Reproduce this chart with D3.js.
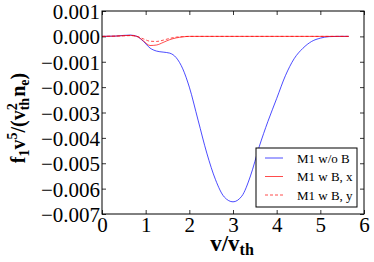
<!DOCTYPE html>
<html>
<head>
<meta charset="utf-8">
<script src="https://cdn.jsdelivr.net/npm/d3@7"></script>
<style>
  body { margin: 0; background: #fff; }
  svg text { font-family: "Liberation Serif", "Times New Roman", serif; }
</style>
</head>
<body>
<div id="chart-area"></div>
<script>
// velocity (v / v_th)
var vel = [0, 0.3, 0.5, 0.65, 0.8, 0.95, 1.1, 1.25, 1.4, 1.55, 1.7, 1.85, 2.0, 2.2, 2.4, 2.6,
           2.8, 3.0, 3.2, 3.4, 3.6, 3.8, 4.0, 4.2, 4.4, 4.6, 4.8, 5.0, 5.2, 5.4, 5.65];
// values in units of 1e-3
var noB = [0, 0.01, 0.04, 0.05, 0.0, -0.2, -0.46, -0.58, -0.62, -0.66, -0.84, -1.28, -2.0, -3.3, -4.6, -5.65,
           -6.33, -6.52, -6.3, -5.5, -4.35, -3.35, -2.45, -1.55, -0.88, -0.47, -0.2, -0.07, -0.01, 0, 0];
var wBx = [0, 0.01, 0.03, 0.04, 0.0, -0.18, -0.36, -0.34, -0.24, -0.13, -0.06, -0.02, 0, 0, 0, 0,
           0, 0, 0, 0, 0, 0, 0, 0, 0, 0, 0, 0, 0, 0, 0];
var wBy = [0, 0.01, 0.02, 0.03, 0.0, -0.1, -0.19, -0.2, -0.15, -0.08, -0.03, -0.01, 0, 0, 0, 0,
           0, 0, 0, 0, 0, 0, 0, 0, 0, 0, 0, 0, 0, 0, 0];

var xTicks = [0, 1, 2, 3, 4, 5, 6];
var yTicks = [0.001, 0, -0.001, -0.002, -0.003, -0.004, -0.005, -0.006, -0.007];
var seriesNames = ["M1 w/o B", "M1 w B, x", "M1 w B, y"];

const MARGIN = { LEFT: 102, RIGHT: 10, TOP: 11, BOTTOM: 48 }
const WIDTH = 374 - MARGIN.LEFT - MARGIN.RIGHT
const HEIGHT = 262 - MARGIN.TOP - MARGIN.BOTTOM

const svg = d3.select("#chart-area").append("svg")
  .attr("width", 374)
  .attr("height", 262)

const g = svg.append("g")
  .attr("transform", `translate(${MARGIN.LEFT}, ${MARGIN.TOP})`)

var x = d3.scaleLinear().domain([0, 6]).range([0, WIDTH]);
var y = d3.scaleLinear().domain([-0.007, 0.001]).range([HEIGHT, 0]);

var fmt = d => (d < 0 ? "\u2212" : "") + Math.abs(d).toFixed(3);

// axes, ticks pointing inward on all four sides
var xAx = g.append("g").attr("transform", "translate(0," + HEIGHT + ")")
  .call(d3.axisBottom(x).tickValues(xTicks).tickSize(-4).tickSizeOuter(0).tickPadding(3).tickFormat(d3.format("d")));
var yAx = g.append("g")
  .call(d3.axisLeft(y).tickValues(yTicks).tickSize(-4).tickSizeOuter(0).tickPadding(2).tickFormat(fmt));
g.append("g").call(d3.axisTop(x).tickValues(xTicks).tickSize(-4).tickSizeOuter(0).tickFormat(""));
g.append("g").attr("transform", "translate(" + WIDTH + ",0)")
  .call(d3.axisRight(y).tickValues(yTicks).tickSize(-4).tickSizeOuter(0).tickFormat(""));

g.selectAll(".domain").remove();
g.selectAll(".tick line").attr("stroke", "#000").attr("stroke-width", 0.8);
xAx.selectAll("text").attr("font-size", 21).attr("fill", "#000").attr("dy", "0.71em");
yAx.selectAll("text").attr("font-size", 21).attr("fill", "#000").attr("dy", "0.36em");

var line = d3.line()
  .x((d, i) => x(vel[i]))
  .y(d => y(d * 1e-3))
  .curve(d3.curveMonotoneX);

var styles = [
  { color: "#0000ff", dash: null },
  { color: "#ff0000", dash: null },
  { color: "#ff0000", dash: "3,2" }
];
var series = [noB, wBx, wBy];

g.selectAll(".line")
  .data(series)
  .enter().append("path")
  .attr("fill", "none")
  .attr("stroke", (d, i) => styles[i].color)
  .attr("stroke-opacity", 0.7)
  .attr("stroke-width", 1)
  .attr("stroke-dasharray", (d, i) => styles[i].dash)
  .attr("d", d => line(d));

// frame
g.append("rect")
  .attr("width", WIDTH).attr("height", HEIGHT)
  .attr("fill", "none").attr("stroke", "#000").attr("stroke-width", 1);

// legend
var lg = svg.append("g").attr("transform", "translate(256,148)");
lg.append("rect").attr("width", 101).attr("height", 59)
  .attr("fill", "#fff").attr("stroke", "#000").attr("stroke-width", 1);
seriesNames.forEach(function (name, i) {
  var yy = 10 + i * 18.5;
  lg.append("line").attr("x1", 9).attr("x2", 27).attr("y1", yy).attr("y2", yy)
    .attr("stroke", styles[i].color).attr("stroke-opacity", 0.7).attr("stroke-width", 1)
    .attr("stroke-dasharray", styles[i].dash);
  lg.append("text").attr("x", 41).attr("y", yy + 4.5).attr("font-size", 13).text(name);
});

// axis labels
var xl = svg.append("text").attr("x", 232).attr("y", 251).attr("text-anchor", "middle")
  .attr("font-size", 23).attr("font-weight", "bold");
xl.append("tspan").text("v/v");
xl.append("tspan").attr("font-size", 16).attr("dy", 4).text("th");

var yl = svg.append("text").attr("transform", "translate(25,118) rotate(-90)")
  .attr("text-anchor", "middle").attr("font-size", 20).attr("font-weight", "bold");
yl.append("tspan").text("f");
yl.append("tspan").attr("font-size", 14).attr("dy", 4).text("1");
yl.append("tspan").attr("dy", -4).text("v");
yl.append("tspan").attr("font-size", 14).attr("dy", -8).text("5");
yl.append("tspan").attr("dy", 8).text("/(v");
yl.append("tspan").attr("font-size", 14).attr("dy", -8).text("2");
yl.append("tspan").attr("font-size", 14).attr("dx", -7).attr("dy", 12).text("th");
yl.append("tspan").attr("dx", 1).attr("dy", -4).text("n");
yl.append("tspan").attr("font-size", 14).attr("dy", 4).text("e");
yl.append("tspan").attr("dy", -4).text(")");
</script>
</body>
</html>
